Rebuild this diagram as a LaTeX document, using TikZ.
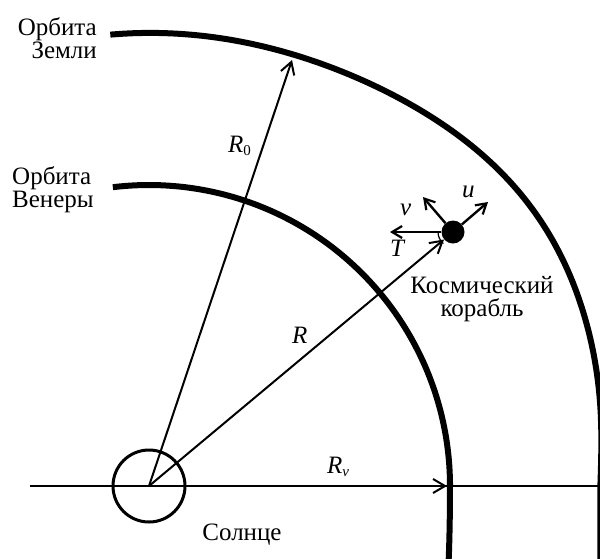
\documentclass[tikz,border=0pt]{standalone}
\usepackage{fontspec}
\setmainfont{Liberation Serif}
\usetikzlibrary{arrows.meta}
\newcommand\mysub[1]{\raisebox{-3pt}{\fontsize{15}{15}\selectfont #1}}
\begin{document}
\begin{tikzpicture}[x=1pt,y=-1pt,
  orbit/.style={line width=6pt},
  thin/.style={line width=2pt},
  bigvec/.style={line width=2pt,-{Straight Barb[length=12pt,width=14pt,line width=2pt]}},
  smallvec/.style={line width=2.4pt,-{Straight Barb[length=10pt,width=12pt,line width=2.2pt]}},
  lbl/.style={font=\fontsize{25}{23}\selectfont, inner sep=0pt, align=center},
  ilbl/.style={font=\fontsize{25}{23}\selectfont\itshape, inner sep=0pt}]
\useasboundingbox (0,0) rectangle (600,558);
\fill[white] (0,0) rectangle (600,558);
\begin{scope}
\clip (0,0) rectangle (600,558);
% Earth orbit
\draw[orbit] plot[domain=94.9:0, samples=160]
   ({149+(453+20*exp(-((\x-35)/24)^2)-4*exp(-(\x/10)^2))*cos(\x)},
    {486-(453+20*exp(-((\x-35)/24)^2)-4*exp(-(\x/10)^2))*sin(\x)})
  -- plot[domain=0:-14, samples=30]
   ({149+(451.4+0.07*(\x)^2)*cos(\x)}, {486-(451.4+0.07*(\x)^2)*sin(\x)});
% Venus orbit
\draw[orbit] plot[domain=96.9:0, samples=120] ({149+301*cos(\x)}, {486-301*sin(\x)})
  -- plot[domain=0:-20, samples=40] ({149+(301+0.04*(\x)^2)*cos(\x)}, {486-(301+0.04*(\x)^2)*sin(\x)});
\end{scope}
% nodes
\node[circle, draw, line width=3pt, minimum size=72pt, inner sep=0pt] (sun) at (149,486) {};
\node[circle, fill=black, minimum size=23pt, inner sep=0pt] (ship) at (453,232) {};
\coordinate (axL) at (30,486);
\coordinate (axR) at (600,486);
\coordinate (e0) at (292,60);
\coordinate (vR) at (447,486);
\coordinate (tT) at (390,232);
\coordinate (tv) at (423,197);
\coordinate (tu) at (488,202);
% axis
\draw[thin] (axL) -- (axR);
% radii
\draw[bigvec] (sun.center) -- (e0);
\draw[bigvec] (sun.center) -- (ship);
\draw[bigvec] (sun.center) -- (vR);
% ship vectors
\draw[smallvec] (ship) -- (tT);
\draw[smallvec] (ship) -- (tv);
\draw[smallvec] (ship) -- (tu);
\draw[line width=1.2pt] (ship.center) ++(180:15) arc[start angle=180, end angle=130, radius=15];
% labels
\node[lbl, align=right, anchor=north east] (lE) at (97,17) {Орбита\\Земли};
\node[lbl, align=left, anchor=north west] (lV) at (12,166) {Орбита\\Венеры};
\node[lbl, anchor=north] (lS) at (482,276) {Космический\\корабль};
\node[lbl, anchor=base] (lSun) at (242,540) {Солнце};
\node[ilbl, anchor=base west] (lR0) at (228,152) {R\mysub{\upshape 0}};
\node[ilbl, anchor=base west] (lR) at (292,343) {R};
\node[ilbl, anchor=base west] (lRv) at (327,473) {R\mysub{v}};
\node[ilbl, anchor=base west] (lv) at (400,215) {v};
\node[ilbl, anchor=base west] (lu) at (462,197) {u};
\node[ilbl, anchor=base west] (lT) at (390,256) {T};
\end{tikzpicture}
\end{document}
